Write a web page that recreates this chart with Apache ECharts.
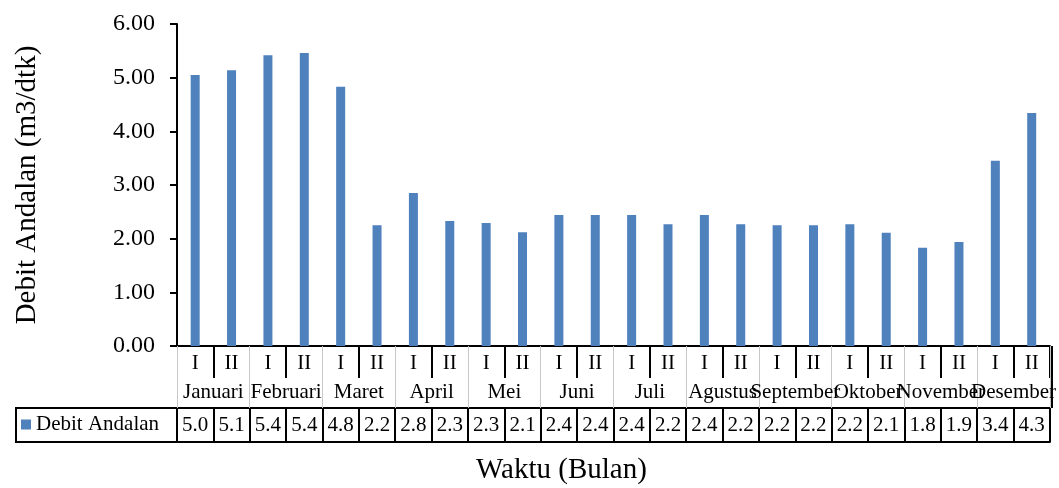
<!DOCTYPE html>
<html>
<head>
<meta charset="utf-8">
<script src="https://cdn.jsdelivr.net/npm/echarts@6/dist/echarts.min.js"></script>
<style>
  html, body { margin: 0; padding: 0; background: #fff; }
  #chart { width: 1059px; height: 488px; }
</style>
</head>
<body>
<div id="chart"></div>
<script>
// data
const halves = ['I', 'II', 'I', 'II', 'I', 'II', 'I', 'II', 'I', 'II', 'I', 'II',
  'I', 'II', 'I', 'II', 'I', 'II', 'I', 'II', 'I', 'II', 'I', 'II']
const months = ['Januari', 'Februari', 'Maret', 'April', 'Mei', 'Juni', 'Juli',
  'Agustus', 'September', 'Oktober', 'November', 'Desember']
const debitAndalan = [5.05, 5.14, 5.42, 5.46, 4.83, 2.25, 2.85, 2.33, 2.29, 2.12, 2.44, 2.44,
  2.44, 2.27, 2.44, 2.27, 2.25, 2.25, 2.27, 2.11, 1.83, 1.94, 3.45, 4.34]
const tableLabels = ['5.0', '5.1', '5.4', '5.4', '4.8', '2.2', '2.8', '2.3', '2.3', '2.1', '2.4', '2.4',
  '2.4', '2.2', '2.4', '2.2', '2.2', '2.2', '2.2', '2.1', '1.8', '1.9', '3.4', '4.3']
const yTicks = { min: 0, max: 6, interval: 1 }

const font = 'Liberation Serif, Times New Roman, serif'
const chart = echarts.init(document.getElementById('chart'))

const option = {
  animation: false,
  textStyle: { fontFamily: font, color: '#000' },
  title: {
    text: 'Waktu (Bulan)',
    left: 476,
    top: 456,
    padding: 0,
    textStyle: { fontFamily: font, fontSize: 29, fontWeight: 'normal', color: '#000' },
  },
  legend: {
    left: 21,
    top: 414,
    icon: 'rect',
    itemWidth: 10,
    itemHeight: 10,
    itemGap: 5,
    padding: 0,
    textStyle: { fontFamily: font, fontSize: 21, color: '#000' },
    data: ['Debit Andalan'],
  },
  grid: { left: 177, right: 7, top: 24, height: 322 },
  yAxis: {
    type: 'value',
    min: yTicks.min,
    max: yTicks.max,
    interval: yTicks.interval,
    name: 'Debit Andalan (m3/dtk)',
    nameLocation: 'middle',
    nameGap: 135,
    nameTextStyle: { fontFamily: font, fontSize: 29, color: '#000' },
    axisLine: { show: true, lineStyle: { color: '#000', width: 2 } },
    axisTick: { show: true, inside: false, length: 7, lineStyle: { color: '#000', width: 2, opacity: 1 } },
    splitLine: { show: false },
    axisLabel: {
      margin: 22,
      fontFamily: font,
      fontSize: 24,
      color: '#000',
      formatter: (v) => v.toFixed(2),
    },
  },
  xAxis: [
    {
      // I / II row
      type: 'category',
      data: halves,
      position: 'bottom',
      axisLine: { show: true, lineStyle: { color: '#000', width: 2 } },
      axisTick: {
        show: true,
        length: 32,
        interval: (i) => i % 2 === 1,
        lineStyle: { color: '#000', width: 2, opacity: 1 },
      },
      axisLabel: { interval: 0, margin: 7, fontFamily: font, fontSize: 21, color: '#000' },
    },
    {
      // month row, thin grey separators
      type: 'category',
      data: months,
      position: 'bottom',
      axisLine: { show: false },
      axisTick: { show: true, length: 62, lineStyle: { color: '#c8c8c8', width: 1, opacity: 1 } },
      axisLabel: { interval: 0, margin: 36, fontFamily: font, fontSize: 21, color: '#000' },
    },
    {
      // data table row
      type: 'category',
      data: tableLabels,
      position: 'bottom',
      offset: 62,
      axisLine: { show: true, lineStyle: { color: '#000', width: 2 } },
      axisTick: { show: true, length: 34, lineStyle: { color: '#000', width: 2, opacity: 1 } },
      axisLabel: { interval: 0, margin: 7, fontFamily: font, fontSize: 21, color: '#000' },
    },
    {
      // table bottom border
      type: 'category',
      data: halves,
      position: 'bottom',
      offset: 96,
      axisLine: { show: true, lineStyle: { color: '#000', width: 2 } },
      axisTick: { show: false },
      axisLabel: { show: false },
    },
  ],
  graphic: [
    {
      // legend cell of the data table
      type: 'rect',
      shape: { x: 16, y: 408, width: 161, height: 34 },
      style: { fill: 'none', stroke: '#000', lineWidth: 2 },
    },
    {
      // right border of the category rows
      type: 'line',
      shape: { x1: 1052, y1: 346, x2: 1052, y2: 408 },
      style: { stroke: '#000', lineWidth: 2 },
    },
  ],
  series: [
    {
      name: 'Debit Andalan',
      type: 'bar',
      xAxisIndex: 0,
      data: debitAndalan,
      barWidth: 9,
      itemStyle: { color: '#4f81bd' },
    },
  ],
}

chart.setOption(option)
</script>
</body>
</html>
